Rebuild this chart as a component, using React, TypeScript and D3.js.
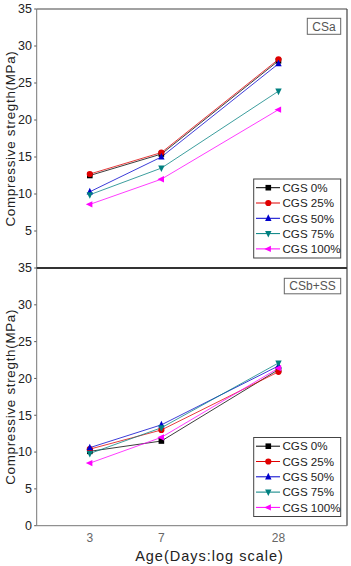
import React from "react";
import * as d3 from "d3";

const days = [3, 7, 28];
const seriesNames = ["CGS 0%", "CGS 25%", "CGS 50%", "CGS 75%", "CGS 100%"];
const seriesColors = ["#000000", "#e00000", "#0000cc", "#008080", "#ff00ff"];
const seriesShapes = ["square", "circle", "up", "down", "left"];

const csaValues = [
  [12.5, 15.4, 28.0],
  [12.7, 15.6, 28.2],
  [10.3, 15.0, 27.6],
  [9.9, 13.5, 23.9],
  [8.6, 12.0, 21.4],
];
const csbValues = [
  [10.1, 11.5, 21.2],
  [10.4, 13.0, 20.9],
  [10.6, 13.7, 21.7],
  [9.8, 13.3, 22.1],
  [8.5, 12.0, 21.4],
];
const yTicks = [0, 5, 10, 15, 20, 25, 30, 35];
const panelLabels = ["CSa", "CSb+SS"];
const yTitle = "Compressive stregth(MPa)";
const xTitle = "Age(Days:log scale)";

const W = 351;
const H = 566;
const left = 36.7;
const right = 347;
const FONT = "'Liberation Sans', Arial, sans-serif";

function Marker({ shape, x, y, color }: { shape: string; x: number; y: number; color: string }) {
  const s = 3.2;
  if (shape === "square") return <rect x={x - 2.8} y={y - 2.8} width={5.6} height={5.6} fill={color} />;
  if (shape === "circle") return <circle cx={x} cy={y} r={3.1} fill={color} />;
  let pts: number[][] = [];
  if (shape === "up") pts = [[x, y - s - 0.8], [x - s, y + s - 0.6], [x + s, y + s - 0.6]];
  if (shape === "down") pts = [[x, y + s + 0.8], [x - s, y - s + 0.6], [x + s, y - s + 0.6]];
  if (shape === "left") pts = [[x - s - 0.8, y], [x + s - 0.6, y - s], [x + s - 0.6, y + s]];
  return <polygon points={pts.map((p) => p.join(",")).join(" ")} fill={color} />;
}

function Panel({ values, top, bottom, label, showZero, labelBox, legendBox }: any) {
  const x = d3.scaleLog().domain([1.6, 63]).range([left, right]);
  const y = d3.scaleLinear().domain([0, 35]).range([bottom, top]);
  const line = d3
    .line<number>()
    .x((_, i) => x(days[i]))
    .y((d) => y(d));
  const ticks = showZero ? yTicks : yTicks.filter((t) => t > 0);
  const mid = (top + bottom) / 2;
  return (
    <g>
      {ticks.map((t) => (
        <g key={t}>
          <line x1={left - 2.5} x2={left} y1={y(t)} y2={y(t)} stroke="#555" />
          <text x={32} y={y(t) + 4.3} textAnchor="end" fontSize={12.5} fill="#222" fontFamily={FONT}>
            {t}
          </text>
        </g>
      ))}
      <line x1={left} x2={left} y1={top} y2={bottom} stroke="#777" strokeWidth={1} />
      <line x1={right} x2={right} y1={top} y2={bottom} stroke="#444" strokeWidth={1.2} />
      <text
        transform={`translate(15,${mid}) rotate(-90)`}
        textAnchor="middle"
        fontSize={13.4}
        letterSpacing={0.7}
        fill="#222"
        fontFamily={FONT}
      >
        {yTitle}
      </text>
      {values.map((vals: number[], si: number) => (
        <path key={"l" + si} d={line(vals) || ""} fill="none" stroke={seriesColors[si]} strokeWidth={0.9} strokeOpacity={0.85} />
      ))}
      {values.map((vals: number[], si: number) =>
        vals.map((v, i) => (
          <Marker key={"m" + si + "-" + i} shape={seriesShapes[si]} x={x(days[i])} y={y(v)} color={seriesColors[si]} />
        ))
      )}
      <rect x={labelBox[0]} y={labelBox[1]} width={340.7 - labelBox[0]} height={labelBox[2]} fill="white" stroke="#666" strokeWidth={1} />
      <text x={(labelBox[0] + 340.7) / 2} y={labelBox[1] + labelBox[2] / 2 + 4.3} textAnchor="middle" fontSize={12} fill="#555" fontFamily={FONT}>
        {label}
      </text>
      <rect x={253.7} y={legendBox} width={87} height={79} fill="white" stroke="#444" strokeWidth={1} />
      {seriesNames.map((n, i) => {
        const ry = legendBox + 8.7 + i * 15.3;
        return (
          <g key={n}>
            <line x1={256} x2={280} y1={ry} y2={ry} stroke={seriesColors[i]} strokeWidth={1} />
            <Marker shape={seriesShapes[i]} x={268.3} y={ry} color={seriesColors[i]} />
            <text x={282.5} y={ry + 4.2} fontSize={11.6} fill="#222" fontFamily={FONT}>
              {n}
            </text>
          </g>
        );
      })}
    </g>
  );
}

export default function App() {
  const x = d3.scaleLog().domain([1.6, 63]).range([left, right]);
  return (
    <svg width={W} height={H} style={{ position: "absolute", left: 0, top: 0, background: "white" }}>
      <rect width={W} height={H} fill="white" />
      <line x1={left} x2={right} y1={9} y2={9} stroke="#444" strokeWidth={1.2} />
      <Panel values={csaValues} top={9} bottom={268} label={panelLabels[0]} showZero={false} labelBox={[307.3, 18.3, 16]} legendBox={179} />
      <Panel values={csbValues} top={268} bottom={525.7} label={panelLabels[1]} showZero={true} labelBox={[284.3, 278.3, 15.5]} legendBox={437.5} />
      <line x1={left} x2={right} y1={268} y2={268} stroke="#333" strokeWidth={2} />
      <line x1={left} x2={right} y1={525.7} y2={525.7} stroke="#777" strokeWidth={1} />
      {days.map((d) => (
        <text key={d} x={x(d)} y={542} textAnchor="middle" fontSize={12} fill="#666" fontFamily={FONT}>
          {d}
        </text>
      ))}
      <text x={209.5} y={561} textAnchor="middle" fontSize={14.5} letterSpacing={1} fill="#222" fontFamily={FONT}>
        {xTitle}
      </text>
    </svg>
  );
}
